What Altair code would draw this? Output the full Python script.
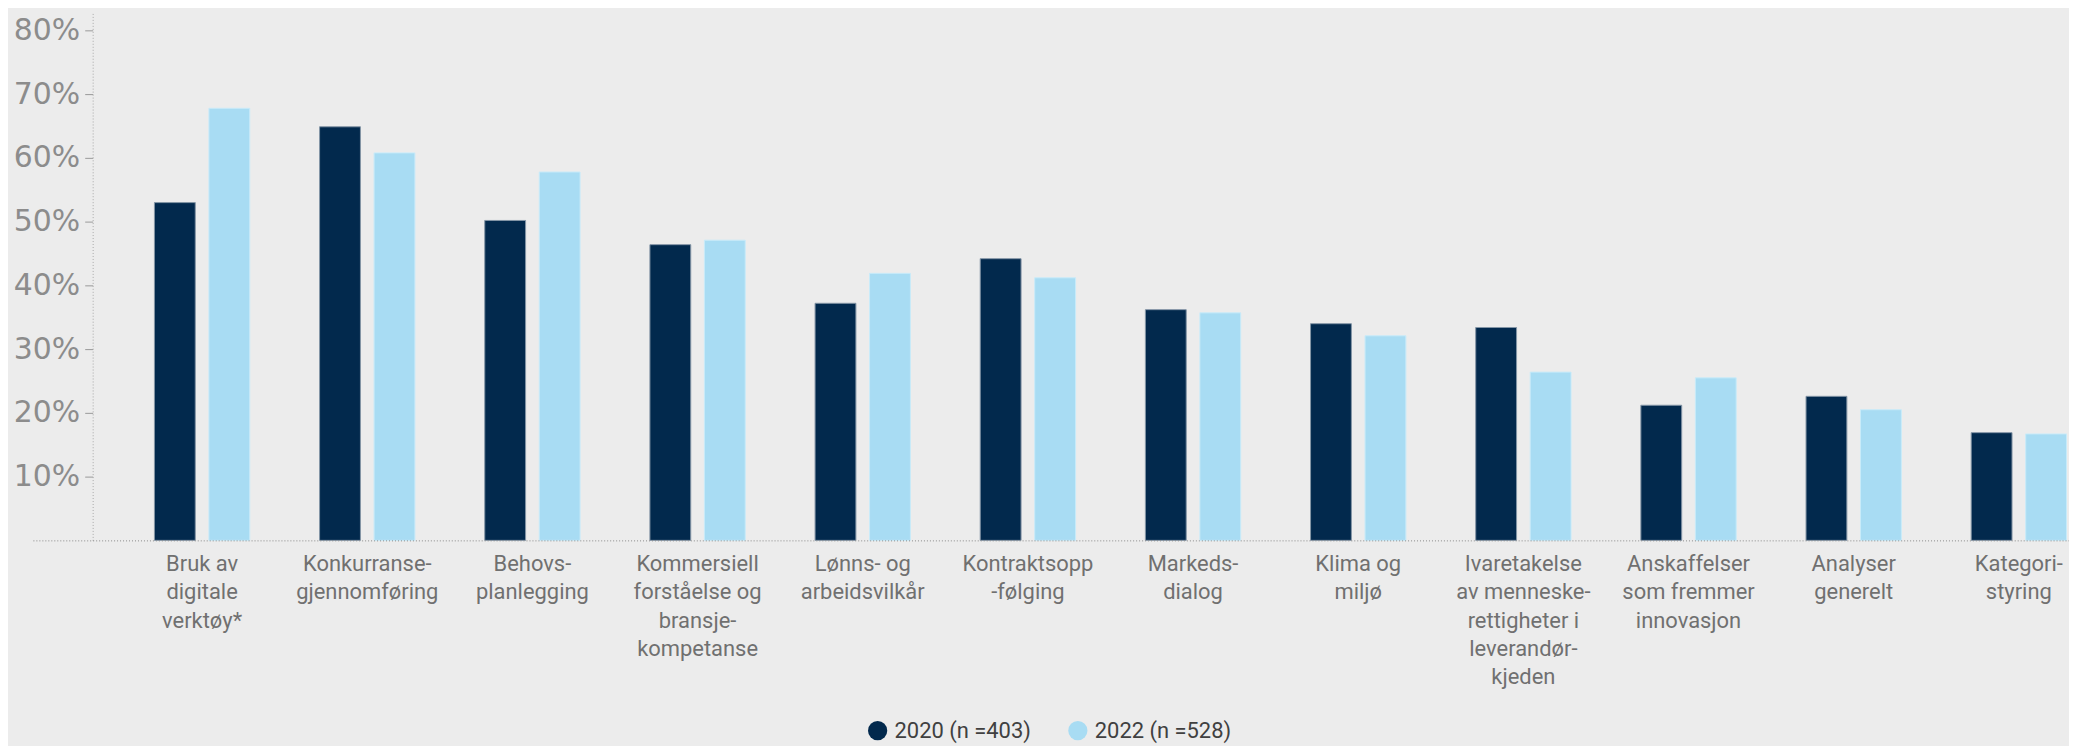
import altair as alt
import pandas as pd

categories = [
    "Bruk av\ndigitale\nverktøy*",
    "Konkurranse-\ngjennomføring",
    "Behovs-\nplanlegging",
    "Kommersiell\nforståelse og\nbransje-\nkompetanse",
    "Lønns- og\narbeidsvilkår",
    "Kontraktsopp\n-følging",
    "Markeds-\ndialog",
    "Klima og\nmiljø",
    "Ivaretakelse\nav menneske-\nrettigheter i\nleverandør-\nkjeden",
    "Anskaffelser\nsom fremmer\ninnovasjon",
    "Analyser\ngenerelt",
    "Kategori-\nstyring",
]
values_2020 = [0.530, 0.649, 0.502, 0.464, 0.372, 0.442, 0.362, 0.340, 0.334, 0.212, 0.226, 0.169]
values_2022 = [0.678, 0.608, 0.578, 0.471, 0.419, 0.412, 0.357, 0.321, 0.264, 0.255, 0.205, 0.167]
series = ["2020 (n =403)", "2022 (n =528)"]
colors = ["#02294d", "#a8dcf3"]
edge_colors = ["#8495a6", "#c9ebf9"]
y_ticks = [0.1, 0.2, 0.3, 0.4, 0.5, 0.6, 0.7, 0.8]

rows = []
for c, a, b in zip(categories, values_2020, values_2022):
    rows.append({"kategori": c, "serie": series[0], "andel": a})
    rows.append({"kategori": c, "serie": series[1], "andel": b})
df = pd.DataFrame(rows)

W = 2044
H = 531

chart = alt.Chart(df).mark_bar(strokeWidth=1).encode(
    x=alt.X(
        "kategori:N",
        sort=categories,
        scale=alt.Scale(paddingInner=0.4228, paddingOuter=0.3754, align=0.98),
        axis=alt.Axis(
            title=None,
            labelAngle=0,
            labelExpr="split(datum.label, '\\n')",
            labelFont="Roboto",
            labelFontSize=22,
            labelColor="#707070",
            labelLineHeight=28.5,
            labelPadding=13,
            labelLimit=0,
            labelOverlap=False,
            ticks=False,
            domainColor="#8a8a8a",
            domainDash=[1, 2],
            domainWidth=1,
            zindex=1,
        ),
    ),
    xOffset=alt.XOffset(
        "serie:N",
        sort=series,
        scale=alt.Scale(paddingInner=0.2505, paddingOuter=0),
    ),
    y=alt.Y(
        "andel:Q",
        scale=alt.Scale(domain=[0, 0.83], nice=False, zero=True),
        axis=alt.Axis(
            title=None,
            values=y_ticks,
            format=".0%",
            labelFont="DejaVu Sans",
            labelFontSize=30,
            labelColor="#8c8c8c",
            labelPadding=5,
            tickSize=8,
            tickColor="#9a9a9a",
            domainColor="#a8a8a8",
            domainDash=[1, 2],
            grid=False,
            offset=-60,
        ),
    ),
    color=alt.Color(
        "serie:N",
        sort=series,
        scale=alt.Scale(domain=series, range=colors),
        legend=alt.Legend(
            title=None,
            orient="none",
            legendX=837,
            legendY=711,
            direction="horizontal",
            symbolType="circle",
            symbolSize=372,
            symbolStrokeWidth=0,
            symbolOpacity=1,
            labelFont="Roboto",
            labelFontSize=22,
            labelColor="#404040",
            labelOffset=6,
            columnPadding=36,
            padding=0,
        ),
    ),
    stroke=alt.Stroke(
        "serie:N",
        sort=series,
        scale=alt.Scale(domain=series, range=edge_colors),
        legend=None,
    ),
).properties(
    width=W,
    height=H,
    autosize=alt.AutoSizeParams(type="none"),
    padding={"left": 25, "top": 2, "right": 0, "bottom": 205},
).configure(
    background="#ececec",
).configure_view(
    stroke=None,
)

chart.save("out.html", embed_options={"renderer": "svg", "actions": False})
